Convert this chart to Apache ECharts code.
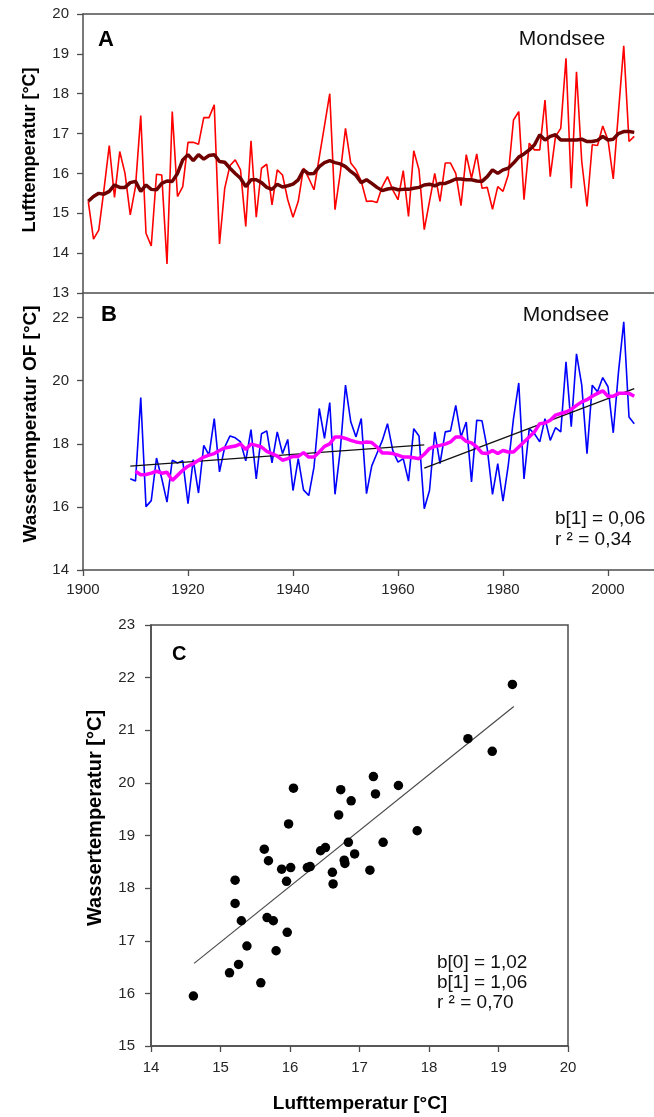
<!DOCTYPE html>
<html>
<head>
<meta charset="utf-8">
<script src="https://cdn.jsdelivr.net/npm/echarts@6/dist/echarts.min.js"></script>
<style>
html,body{margin:0;padding:0;background:#fff;}
#chart{width:654px;height:1117px;}
</style>
</head>
<body>
<div id="chart"></div>
<script>
// ---------- DATA ----------
const airStartYear = 1901;
const airTemp = [15.30,14.35,14.58,15.60,16.70,15.40,16.55,16.00,14.96,15.67,
  17.45,14.50,14.18,15.98,15.96,13.73,17.55,15.42,15.67,16.78,
  16.78,16.73,17.40,17.40,17.72,14.23,15.63,16.20,16.34,16.09,
  14.67,16.82,14.90,16.13,16.23,15.21,16.09,15.96,15.34,14.90,
  15.30,16.13,15.88,15.59,16.40,17.20,18.00,15.09,16.00,17.13,
  16.26,16.09,15.80,15.30,15.31,15.27,15.67,15.92,15.59,15.34,
  16.07,14.92,16.57,16.09,14.59,15.30,16.00,15.30,16.26,16.26,
  16.00,15.19,16.47,15.88,16.49,15.63,15.65,15.10,15.67,15.55,
  15.96,17.34,17.55,15.34,16.76,16.59,16.59,17.84,15.92,16.93,
  17.13,18.89,15.63,18.55,16.30,15.17,16.72,16.70,17.19,16.84,
  15.86,17.55,19.20,16.80,16.93];
const airTempSmooth = [15.30,15.42,15.50,15.48,15.55,15.71,15.65,15.65,15.77,15.80,
  15.55,15.71,15.60,15.59,15.75,15.81,15.80,16.00,16.34,16.47,
  16.32,16.47,16.36,16.45,16.47,16.30,16.28,16.13,16.00,15.88,
  15.67,15.84,15.84,15.77,15.65,15.60,15.73,15.66,15.69,15.73,
  15.84,16.09,15.99,16.00,16.17,16.27,16.32,16.27,16.24,16.17,
  16.05,15.95,15.77,15.84,15.75,15.65,15.57,15.61,15.63,15.59,
  15.60,15.60,15.63,15.65,15.71,15.73,15.69,15.75,15.75,15.80,
  15.86,15.86,15.84,15.84,15.81,15.80,15.92,16.09,16.00,16.09,
  16.13,16.26,16.41,16.49,16.59,16.72,16.97,16.84,16.93,16.97,
  16.84,16.84,16.84,16.84,16.86,16.80,16.80,16.83,16.93,16.84,
  16.86,17.00,17.05,17.05,17.03];

const waterStartYear = 1909;
const waterTemp = [16.89,16.82,19.47,16.01,16.20,17.55,16.90,16.15,17.48,17.39,
  17.46,16.10,17.50,16.44,17.95,17.64,18.80,17.11,17.90,18.25,
  18.19,18.06,17.46,18.45,16.89,18.32,18.41,17.40,18.38,17.69,
  18.14,16.52,17.53,16.54,16.36,17.26,19.12,18.17,19.31,16.40,
  17.79,19.86,18.70,18.22,18.80,16.42,17.30,17.70,18.10,18.64,
  17.79,17.42,17.53,16.82,18.48,18.25,15.94,16.52,18.38,17.37,
  18.38,18.41,19.22,18.22,18.69,16.79,18.75,18.73,17.85,16.40,
  17.37,16.18,17.32,18.80,19.93,16.89,18.48,18.32,18.06,18.80,
  18.11,18.51,18.38,20.60,18.54,20.85,19.86,17.69,19.86,19.65,
  20.10,19.81,18.35,20.28,21.87,18.85,18.64];
const waterSmoothStartYear = 1910;
const waterTempSmooth = [17.13,17.02,17.03,17.07,17.13,17.07,17.10,16.84,17.00,17.16,
  17.29,17.37,17.48,17.58,17.64,17.69,17.79,17.87,17.90,17.93,
  18.00,17.82,17.99,17.95,17.90,17.76,17.69,17.61,17.48,17.53,
  17.60,17.60,17.72,17.58,17.58,17.74,17.92,18.00,18.22,18.22,
  18.17,18.11,18.06,18.03,18.06,18.04,17.90,17.71,17.71,17.69,
  17.64,17.58,17.58,17.56,17.53,17.67,17.85,17.92,17.95,17.99,
  18.06,18.22,18.22,18.08,18.03,17.90,17.71,17.69,17.79,17.69,
  17.79,17.74,17.74,17.90,18.06,18.22,18.38,18.64,18.66,18.75,
  18.91,18.96,19.01,19.09,19.22,19.33,19.40,19.51,19.60,19.68,
  19.51,19.51,19.60,19.60,19.60,19.51];
const trendEarly = [[1909,17.29],[1965,17.97]];
const trendLate  = [[1965,17.23],[2005,19.75]];

const scatterPairs = [[14.61,15.95],[15.13,16.39],[15.26,16.55],[15.21,18.15],[15.21,17.71],
  [15.30,17.38],[15.38,16.90],[15.58,16.20],[15.63,18.74],[15.69,18.52],[15.67,17.44],
  [15.76,17.38],[15.80,16.81],[15.88,18.36],[15.95,18.13],[15.96,17.16],[15.98,19.22],
  [16.01,18.39],[16.05,19.90],[16.25,18.39],[16.29,18.41],[16.44,18.71],[16.51,18.77],
  [16.61,18.30],[16.62,18.08],[16.70,19.39],[16.73,19.87],[16.78,18.53],[16.79,18.47],
  [16.84,18.87],[16.88,19.66],[16.93,18.65],[17.15,18.34],[17.20,20.12],[17.23,19.79],
  [17.34,18.87],[17.56,19.95],[17.83,19.09],[18.56,20.84],[18.91,20.60],[19.20,21.87]];
const regressionLine = [[14.62,16.57],[19.22,21.45]];

const yearTicks = [1900,1920,1940,1960,1980,2000];
const airTicks = [13,14,15,16,17,18,19,20];
const waterTicks = [14,16,18,20,22];

// ---------- BUILD ----------
function pairs(start, arr){ return arr.map((v,i)=>[start+i, v]); }

const FONT = '"Liberation Sans", Arial, Helvetica, sans-serif';
const AXIS = '#4d4d4d';
const LBL = '#262626';

const chart = echarts.init(document.getElementById('chart'), null, {renderer:'canvas'});

function yearAxis(gridIndex, showLabels, position){
  return {
    type:'value', gridIndex, min:1900, max:2010, position: position || 'bottom',
    axisLine:{show:true, onZero:false, lineStyle:{color:AXIS, width:1.5}},
    axisTick:{show:showLabels, inside:false, length:6, lineStyle:{color:AXIS, width:1.3}, customValues: yearTicks},
    axisLabel:{show:showLabels, customValues: yearTicks, formatter:v=>String(v), margin:12,
      color:LBL, fontSize:15, fontFamily:FONT},
    splitLine:{show:false}
  };
}

const option = {
  animation:false,
  backgroundColor:'#fff',
  grid:[
    {left:83, top:14, width:577.5, height:279, outerBoundsMode:'none', containLabel:false},
    {left:83, top:294, width:577.5, height:276, outerBoundsMode:'none', containLabel:false},
    {left:151, top:625, width:417, height:421, show:true, borderColor:AXIS, borderWidth:1.5, backgroundColor:'transparent'}
  ],
  xAxis:[
    yearAxis(0,false,'bottom'),
    yearAxis(1,true,'bottom'),
    {type:'value', gridIndex:2, min:14, max:20, interval:1,
      axisLine:{show:true, lineStyle:{color:AXIS, width:1.5}},
      axisTick:{inside:false, length:6, lineStyle:{color:AXIS, width:1.3}},
      axisLabel:{margin:14, color:LBL, fontSize:15, fontFamily:FONT},
      splitLine:{show:false}},
    yearAxis(0,false,'top')
  ],
  yAxis:[
    {type:'value', gridIndex:0, min:13, max:20, interval:1,
      axisLine:{show:true, lineStyle:{color:AXIS, width:1.5}},
      axisTick:{show:true, inside:false, length:6, lineStyle:{color:AXIS, width:1.3}, customValues: airTicks},
      axisLabel:{margin:14, color:LBL, fontSize:15, fontFamily:FONT, customValues: airTicks},
      splitLine:{show:false}},
    {type:'value', gridIndex:1, min:14, max:22.75,
      axisLine:{show:true, lineStyle:{color:AXIS, width:1.5}},
      axisTick:{show:true, inside:false, length:6, lineStyle:{color:AXIS, width:1.3}, customValues: waterTicks},
      axisLabel:{margin:14, color:LBL, fontSize:15, fontFamily:FONT, customValues: waterTicks},
      splitLine:{show:false}},
    {type:'value', gridIndex:2, min:15, max:23, interval:1,
      axisLine:{show:true, lineStyle:{color:AXIS, width:1.5}},
      axisTick:{inside:false, length:6, lineStyle:{color:AXIS, width:1.3}},
      axisLabel:{margin:16, color:LBL, fontSize:15, fontFamily:FONT},
      splitLine:{show:false}}
  ],
  series:[
    {type:'line', xAxisIndex:0, yAxisIndex:0, data:pairs(airStartYear, airTemp), symbol:'none',
      lineStyle:{color:'#ff0000', width:1.6}, z:2},
    {type:'line', xAxisIndex:0, yAxisIndex:0, data:pairs(airStartYear, airTempSmooth), symbol:'none',
      lineStyle:{color:'#6e0000', width:3.5}, z:3},
    {type:'line', xAxisIndex:1, yAxisIndex:1, data:pairs(waterStartYear, waterTemp), symbol:'none',
      lineStyle:{color:'#0000ff', width:1.6}, z:2},
    {type:'line', xAxisIndex:1, yAxisIndex:1, data:trendEarly, symbol:'none',
      lineStyle:{color:'#111', width:1.3}, z:3},
    {type:'line', xAxisIndex:1, yAxisIndex:1, data:trendLate, symbol:'none',
      lineStyle:{color:'#111', width:1.3}, z:3},
    {type:'line', xAxisIndex:1, yAxisIndex:1, data:pairs(waterSmoothStartYear, waterTempSmooth), symbol:'none',
      lineStyle:{color:'#ff00ff', width:3.5}, z:4},
    {type:'line', xAxisIndex:2, yAxisIndex:2, data:regressionLine, symbol:'none',
      lineStyle:{color:'#4a4a4a', width:1.2}, z:2},
    {type:'scatter', xAxisIndex:2, yAxisIndex:2, data:scatterPairs, symbol:'circle', symbolSize:9.5,
      itemStyle:{color:'#000', opacity:1}, z:3}
  ],
  graphic:[
    {type:'text', x:98, y:40, style:{text:'A', font:'bold 22px '+FONT, fill:'#000', align:'left', verticalAlign:'middle'}},
    {type:'text', x:562, y:39, style:{text:'Mondsee', font:'21px '+FONT, fill:'#111', align:'center', verticalAlign:'middle'}},
    {type:'text', x:101, y:315, style:{text:'B', font:'bold 22px '+FONT, fill:'#000', align:'left', verticalAlign:'middle'}},
    {type:'text', x:566, y:315, style:{text:'Mondsee', font:'21px '+FONT, fill:'#111', align:'center', verticalAlign:'middle'}},
    {type:'text', x:555, y:519, style:{text:'b[1] = 0,06', font:'19px '+FONT, fill:'#111', align:'left', verticalAlign:'middle'}},
    {type:'text', x:555, y:540, style:{text:'r \u00b2 = 0,34', font:'19px '+FONT, fill:'#111', align:'left', verticalAlign:'middle'}},
    {type:'text', x:172, y:654, style:{text:'C', font:'bold 20px '+FONT, fill:'#000', align:'left', verticalAlign:'middle'}},
    {type:'text', x:437, y:963, style:{text:'b[0] = 1,02', font:'19px '+FONT, fill:'#111', align:'left', verticalAlign:'middle'}},
    {type:'text', x:437, y:983, style:{text:'b[1] = 1,06', font:'19px '+FONT, fill:'#111', align:'left', verticalAlign:'middle'}},
    {type:'text', x:437, y:1003, style:{text:'r \u00b2 = 0,70', font:'19px '+FONT, fill:'#111', align:'left', verticalAlign:'middle'}},
    {type:'text', x:30, y:150, rotation:Math.PI/2, style:{text:'Lufttemperatur [°C]', font:'bold 18px '+FONT, fill:'#000', align:'center', verticalAlign:'middle'}},
    {type:'text', x:31, y:424, rotation:Math.PI/2, style:{text:'Wassertemperatur OF [°C]', font:'bold 19px '+FONT, fill:'#000', align:'center', verticalAlign:'middle'}},
    {type:'text', x:95, y:818, rotation:Math.PI/2, style:{text:'Wassertemperatur [°C]', font:'bold 20px '+FONT, fill:'#000', align:'center', verticalAlign:'middle'}},
    {type:'text', x:360, y:1104, style:{text:'Lufttemperatur [°C]', font:'bold 19px '+FONT, fill:'#000', align:'center', verticalAlign:'middle'}}
  ]
};
chart.setOption(option);
</script>
</body>
</html>
